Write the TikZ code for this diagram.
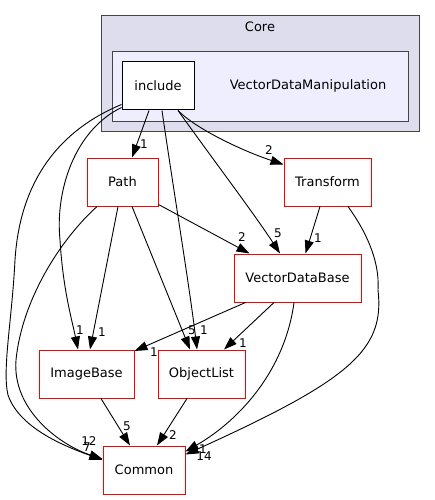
\documentclass[tikz,border=0pt]{standalone}
\usepackage{fontspec}
\setmainfont{DejaVu Sans}
\usetikzlibrary{arrows.meta}
\definecolor{corefill}{HTML}{DDDDEE}
\definecolor{vdmfill}{HTML}{EEEEFF}
\definecolor{clborder}{HTML}{444444}
\definecolor{nodered}{HTML}{FF0000}
\begin{document}
\begin{tikzpicture}[x=1pt,y=-1pt,
  dirnode/.style={draw=nodered, line width=1pt, fill=white, inner sep=0pt,
    minimum height=48pt, font=\fontsize{13}{15}\selectfont},
  incnode/.style={draw=black, line width=1pt, fill=white, inner sep=0pt,
    minimum width=72pt, minimum height=48pt, font=\fontsize{13}{15}\selectfont},
  cltext/.style={font=\fontsize{13}{15}\selectfont, inner sep=0pt},
  dep/.style={draw=black, line width=0.9pt, -{Triangle[length=13pt,width=9pt]}},
  lbl/.style={font=\fontsize{12}{14}\selectfont, inner sep=0pt}
]
\useasboundingbox (0,0) rectangle (435,500);
% clusters
\draw[clborder, line width=1pt, fill=corefill] (101,16) rectangle (419,131);
\node[cltext] (corelbl) at (260,27) {Core};
\draw[clborder, line width=1pt, fill=vdmfill] (112,52) rectangle (408,121);
\node[cltext] (vdmlbl) at (308,86) {VectorDataManipulation};
% nodes
\node[incnode] (include) at (158,86) {include};
\node[dirnode, minimum width=71pt] (path) at (122.5,182) {Path};
\node[dirnode, minimum width=87pt] (transform) at (327.5,182) {Transform};
\node[dirnode, minimum width=127pt] (vdb) at (297.5,278) {VectorDataBase};
\node[dirnode, minimum width=95pt] (imagebase) at (86.5,374) {ImageBase};
\node[dirnode, minimum width=87pt] (objectlist) at (201.5,374) {ObjectList};
\node[dirnode, minimum width=82pt] (common) at (144,470) {Common};
% edges
\draw[dep] ([xshift=-9pt]include.south) -- ([xshift=9.5pt]path.north)
  node[lbl, at={(144,144)}] {1};
\draw[dep] ([xshift=20pt]include.south) .. controls (195,128) and (240,150) .. ([yshift=-7pt]transform.north west)
  node[lbl, at={(269,150)}] {2};
\draw[dep] ([xshift=20pt]include.south) .. controls (212,158) and (255,215) .. ([xshift=-17.5pt]vdb.north)
  node[lbl, at={(278,233)}] {5};
\draw[dep] ([xshift=4pt]include.south) .. controls (172,180) and (190,290) .. ([xshift=-4.5pt]objectlist.north)
  node[lbl, at={(204,330)}] {1};
\draw[dep] ([yshift=3pt]include.south west) .. controls (75,130) and (55,190) .. (60,240)
  .. controls (63,290) and (72,320) .. ([xshift=-8.5pt]imagebase.north)
  node[lbl, at={(80,330)}] {1};
\draw[dep] ([yshift=6pt]include.south west) .. controls (60,130) and (20,180) .. (15,260)
  .. controls (12,320) and (2,370) .. (8,395) .. controls (20,430) and (70,448) .. ([yshift=10pt]common.west)
  node[lbl, at={(89,441)}] {12};
\draw[dep] ([xshift=-4.5pt]path.south) -- ([xshift=3.5pt]imagebase.north)
  node[lbl, at={(102,332)}] {1};
\draw[dep] ([xshift=9.5pt]path.south) -- ([xshift=-11.5pt]objectlist.north)
  node[lbl, at={(192,330)}] {5};
\draw[dep] ([yshift=2pt]path.south east) -- ([xshift=16pt]vdb.north west)
  node[lbl, at={(242,237)}] {2};
\draw[dep] ([xshift=-25.5pt]path.south) .. controls (60,240) and (22,300) .. (16,360)
  .. controls (12,410) and (60,445) .. ([yshift=11pt]common.west)
  node[lbl, at={(87,447)}] {7};
\draw[dep] ([xshift=-7.5pt]transform.south) -- ([xshift=8pt]vdb.north)
  node[lbl, at={(318,238)}] {1};
\draw[dep] ([xshift=20.5pt]transform.south) .. controls (365,230) and (380,260) .. (378,290)
  .. controls (385,350) and (350,380) .. ([yshift=-9pt]common.north east)
  node[lbl, at={(204,456)}] {14};
\draw[dep] ([xshift=12pt]vdb.south west) -- ([yshift=-1.5pt]imagebase.north east)
  node[lbl, at={(154,352)}] {1};
\draw[dep] ([xshift=-23.5pt]vdb.south) -- ([xshift=22.5pt]objectlist.north)
  node[lbl, at={(243,343)}] {1};
\draw[dep] ([xshift=-3.5pt]vdb.south) .. controls (285,370) and (240,420) .. ([yshift=-6pt]common.north east)
  node[lbl, at={(203,449)}] {1};
\draw[dep] ([xshift=14.5pt]imagebase.south) -- ([xshift=-14pt]common.north)
  node[lbl, at={(127,426)}] {5};
\draw[dep] ([xshift=-14.5pt]objectlist.south) -- ([xshift=13pt]common.north)
  node[lbl, at={(173,435)}] {2};
\end{tikzpicture}
\end{document}
